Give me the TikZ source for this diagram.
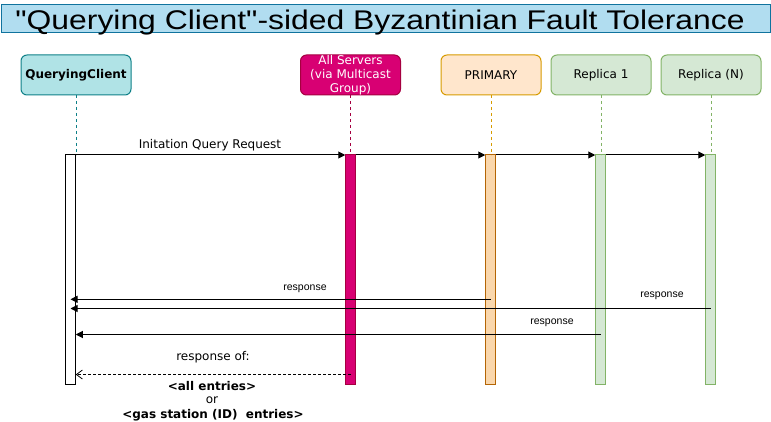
\documentclass[tikz,border=0pt]{standalone}
\usepackage{fontspec}
\setmainfont{DejaVu Sans}
\newfontfamily\arialf{Liberation Sans}
\usetikzlibrary{arrows.meta,calc}
\definecolor{titlefill}{HTML}{B1DDF0}
\definecolor{titledraw}{HTML}{10739E}
\definecolor{cfill}{HTML}{B0E3E6}
\definecolor{cdraw}{HTML}{0E8088}
\definecolor{sfill}{HTML}{D80073}
\definecolor{sdraw}{HTML}{A50040}
\definecolor{pfill}{HTML}{FFE6CC}
\definecolor{pdraw}{HTML}{D79B00}
\definecolor{pbarfill}{HTML}{FAD7AC}
\definecolor{pbardraw}{HTML}{B46504}
\definecolor{rfill}{HTML}{D5E8D4}
\definecolor{rdraw}{HTML}{82B366}
\begin{document}
\begin{tikzpicture}[x=1pt,y=-1pt,
  hbox/.style={rounded corners=6pt,line width=1pt,minimum width=100pt,minimum height=40pt,inner sep=0pt,outer sep=0pt,align=center,font=\fontsize{12}{14}\selectfont},
  actbar/.style={line width=1pt,minimum width=10.5pt,minimum height=229pt,inner sep=0pt,outer sep=0pt},
  lifeline/.style={line width=1pt,dash pattern=on 3pt off 3pt},
  msg/.style={line width=1pt,-{Triangle[length=7pt,width=7pt]}},
  retmsg/.style={line width=1pt,dash pattern=on 3pt off 2pt,-{Straight Barb[length=6pt,width=9pt,line width=0.8pt]}},
  lbl/.style={font=\fontsize{12}{14}\selectfont,inner sep=0pt},
  smalllbl/.style={font=\arialf\fontsize{10.5}{12}\selectfont,inner sep=0pt},
  notelbl/.style={font=\fontsize{12}{14}\selectfont,inner sep=0pt}
]
\useasboundingbox (0,0) rectangle (771,422);
% title
\node[draw=titledraw,fill=titlefill,line width=1pt,minimum width=769pt,minimum height=28pt,inner sep=0pt] (title) at (385.5,19) {};
\node[anchor=base,inner sep=0pt,font=\arialf\fontsize{27}{29}\selectfont] (titletext) at (380,29.5)
  {\scalebox{1.18}[1]{"Querying Client"-sided Byzantinian Fault Tolerance}};
% header boxes
\node[hbox,draw=cdraw,fill=cfill,minimum width=110pt,font=\bfseries\fontsize{12}{14}\selectfont] (qc) at (76,75) {QueryingClient};
\node[hbox,draw=sdraw,fill=sfill,text=white] (srv) at (350.5,75) {All Servers\\(via Multicast\\Group)};
\node[hbox,draw=pdraw,fill=pfill] (pri) at (491,75) {PRIMARY};
\node[hbox,draw=rdraw,fill=rfill] (rep1) at (601,75) {Replica 1};
\node[hbox,draw=rdraw,fill=rfill] (repn) at (711,75) {Replica (N)};
% activation bars
\node[actbar,draw=black,fill=white] (cbar) at (70.5,269.5) {};
\node[actbar,draw=sdraw,fill=sfill] (sbar) at (350.5,269.5) {};
\node[actbar,draw=pbardraw,fill=pbarfill] (pbar) at (490.5,269.5) {};
\node[actbar,draw=rdraw,fill=rfill] (r1bar) at (600.5,269.5) {};
\node[actbar,draw=rdraw,fill=rfill] (rnbar) at (710.5,269.5) {};
% lifelines
\draw[lifeline,draw=cdraw] (qc.south) -- (qc.south |- cbar.north);
\draw[lifeline,draw=sdraw] (srv.south) -- (srv.south |- sbar.north);
\draw[lifeline,draw=pdraw] (pri.south) -- (pri.south |- pbar.north);
\draw[lifeline,draw=rdraw] (rep1.south) -- (rep1.south |- r1bar.north);
\draw[lifeline,draw=rdraw] (repn.south) -- (repn.south |- rnbar.north);
% request
\draw[msg] (cbar.north west) -- (sbar.north west);
\draw[msg] (sbar.north east) -- (pbar.north west);
\draw[msg] (pbar.north east) -- (r1bar.north west);
\draw[msg] (r1bar.north east) -- (rnbar.north west);
\node[lbl] (reqlbl) at (210,145) {Initation Query Request};
% responses
\coordinate (y1) at (0,299.3);
\coordinate (y2) at (0,308.5);
\coordinate (y3) at (0,334.5);
\coordinate (y4) at (0,374.5);
\draw[msg] (pbar.center |- y1) -- (cbar.center |- y1);
\draw[msg] (rnbar.center |- y2) -- (cbar.center |- y2);
\draw[msg] (r1bar.center |- y3) -- (cbar.east |- y3);
\draw[retmsg] (sbar.center |- y4) -- (cbar.east |- y4);
\node[smalllbl] (resp1) at (305,289) {response};
\node[smalllbl] (resp2) at (662,296) {response};
\node[smalllbl] (resp3) at (552,323) {response};
\node[notelbl] (respof) at (213,357) {response of:};
\node[notelbl,font=\bfseries\fontsize{12}{14}\selectfont] (allent) at (212,386) {<all entries>};
\node[notelbl] (orlbl) at (212,400) {or};
\node[notelbl,font=\bfseries\fontsize{12}{14}\selectfont] (gasent) at (213,415) {<gas station (ID)\ \ entries>};
\end{tikzpicture}
\end{document}
